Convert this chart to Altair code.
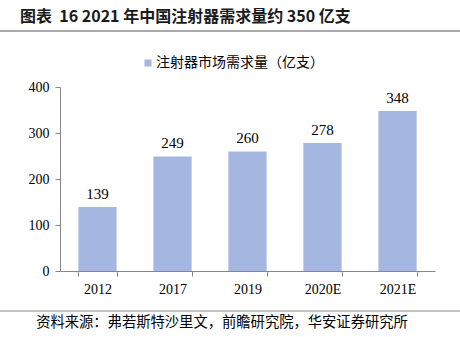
import altair as alt
import pandas as pd

categories = ["2012", "2017", "2019", "2020E", "2021E"]
values = [139, 249, 260, 278, 348]

title_text = "图表\u00a0\u00a016 2021 年中国注射器需求量约 350 亿支"
legend_text = "注射器市场需求量（亿支）"
source_text = "资料来源：弗若斯特沙里文，前瞻研究院，华安证券研究所"

df = pd.DataFrame({"cat": categories, "val": values})

BAR = "#A5B7E0"
AX = "#868686"
SERIF = "Liberation Serif"
CJK = "Noto Sans CJK SC"

x_enc = alt.X("cat:N", sort=categories,
              scale=alt.Scale(paddingInner=0.49, paddingOuter=0.245),
              axis=alt.Axis(title=None, labelAngle=0, labelFont=SERIF, labelFontSize=14,
                            labelColor="#000000", labelPadding=6, domainColor=AX,
                            tickColor=AX, tickSize=5, tickBand="extent", ticks=True,
                            grid=False))
y_enc = alt.Y("val:Q", scale=alt.Scale(domain=[0, 400]),
              axis=alt.Axis(title=None, values=[0, 100, 200, 300, 400], labelFont=SERIF,
                            labelFontSize=14, labelColor="#000000", domainColor=AX,
                            tickColor=AX, tickSize=5, labelPadding=6, grid=False))

bars = alt.Chart(df).mark_bar(color=BAR).encode(x=x_enc, y=y_enc)
labels = alt.Chart(df).mark_text(font=SERIF, fontSize=15, dy=-13, color="#000000").encode(
    x=alt.X("cat:N", sort=categories), y="val:Q", text="val:Q")

title = alt.Chart(pd.DataFrame({"t": [title_text]})).mark_text(
    font=CJK, fontSize=16, fontWeight="bold", align="left", baseline="middle", color="#1a1a1a"
).encode(x=alt.value(-40), y=alt.value(-70), text="t:N")

top_line = alt.Chart(pd.DataFrame({"a": [0]})).mark_rule(color="#555555", strokeWidth=1).encode(
    x=alt.value(-60), x2=alt.value(400), y=alt.value(-56))
bot_line = alt.Chart(pd.DataFrame({"a": [0]})).mark_rule(color="#888888", strokeWidth=1).encode(
    x=alt.value(-60), x2=alt.value(400), y=alt.value(224))

leg_sq = alt.Chart(pd.DataFrame({"a": [0]})).mark_square(color=BAR, size=50, opacity=1).encode(
    x=alt.value(88), y=alt.value(-24))
leg_txt = alt.Chart(pd.DataFrame({"t": [legend_text]})).mark_text(
    font=CJK, fontSize=14, align="left", baseline="middle", color="#000000"
).encode(x=alt.value(96), y=alt.value(-24), text="t:N")

src = alt.Chart(pd.DataFrame({"t": [source_text]})).mark_text(
    font=CJK, fontSize=14.3, align="center", baseline="middle", color="#000000"
).encode(x=alt.value(162), y=alt.value(236), text="t:N")

chart = alt.layer(bars, labels, title, top_line, bot_line, leg_sq, leg_txt, src).properties(
    width=375, height=184,
    padding={"left": 60, "top": 87, "right": 25, "bottom": 66},
    autosize=alt.AutoSizeParams(type="none"),
    background="white",
).configure_view(stroke=None)

chart.save("out.html", embed_options={"renderer": "svg", "actions": False})
